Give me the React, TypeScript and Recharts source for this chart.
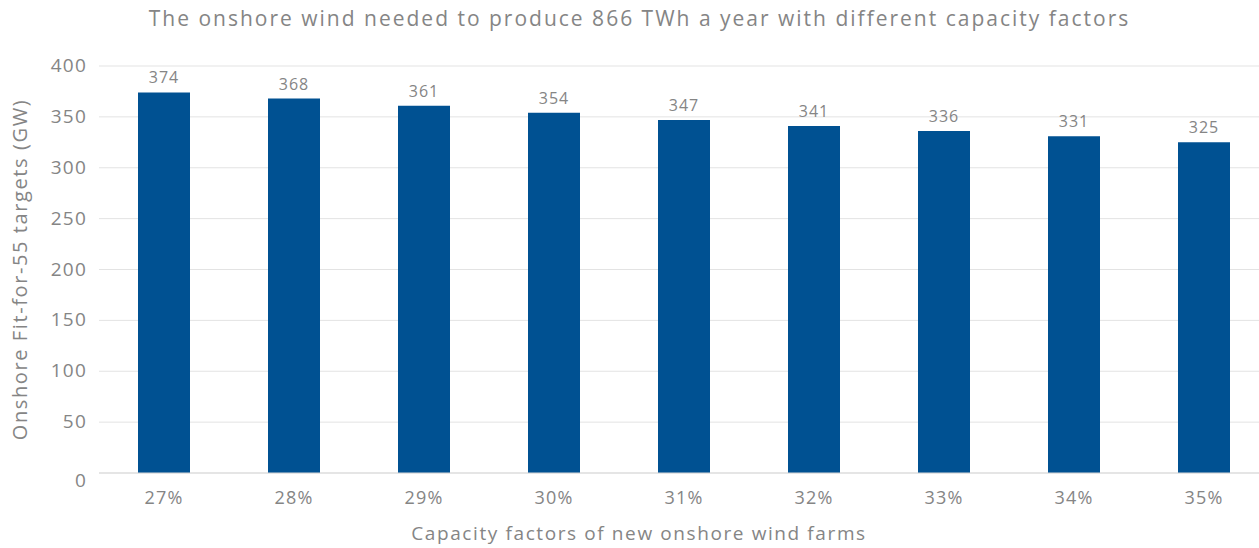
import { BarChart, Bar, XAxis, YAxis, CartesianGrid, LabelList } from 'recharts';

const capacityFactors = ['27%', '28%', '29%', '30%', '31%', '32%', '33%', '34%', '35%'];
const onshoreGW = [374, 368, 361, 354, 347, 341, 336, 331, 325];
const yTicks = [0, 50, 100, 150, 200, 250, 300, 350, 400];

const FONT = '"Open Sans", sans-serif';
const GREY = '#858585';

// Y tick: the zero label sits a little lower than the gridline in the original
const YTick = (props: any) => {
  const { x, y, payload } = props;
  const dy = payload.value === 0 ? 14 : 6;
  return (
    <text x={x - 4} y={y + dy} textAnchor="end" fill={GREY} fontSize={19} fontFamily={FONT} letterSpacing={1.2}>
      {payload.value}
    </text>
  );
};

export default function App() {
  const data = capacityFactors.map((cf, i) => ({ cf, gw: onshoreGW[i] }));

  return (
    <div style={{ position: 'absolute', left: 0, top: 0, width: 1259, height: 548, overflow: 'hidden', background: '#fff', fontFamily: FONT }}>
      <div style={{ position: 'absolute', top: 4, left: 0, width: 1279, textAlign: 'center', fontSize: 21, letterSpacing: 2, color: GREY }}>
        The onshore wind needed to produce 866 TWh a year with different capacity factors
      </div>
      <BarChart width={1280} height={548} data={data} margin={{ top: 66, right: 11, left: 0, bottom: 0 }}>
        <CartesianGrid vertical={false} stroke="#e3e3e3" />
        <XAxis
          dataKey="cf"
          height={75}
          axisLine={{ stroke: '#d9d9d9' }}
          tickLine={false}
          tick={{ fill: GREY, fontSize: 18, fontFamily: FONT, letterSpacing: 1.2 }}
          tickMargin={12}
          label={{ value: 'Capacity factors of new onshore wind farms', position: 'insideBottom', offset: 8, dx: -45, fill: GREY, fontSize: 19, fontFamily: FONT, letterSpacing: 1.6 }}
        />
        <YAxis
          domain={[0, 400]}
          ticks={yTicks}
          width={99}
          axisLine={false}
          tickLine={false}
          tick={<YTick />}
          label={{ value: 'Onshore Fit-for-55 targets (GW)', angle: -90, position: 'insideLeft', offset: 20, fill: GREY, fontSize: 20, fontFamily: FONT, letterSpacing: 1.6, style: { textAnchor: 'middle' } }}
        />
        <Bar dataKey="gw" fill="#005192" barSize={52} isAnimationActive={false}>
          <LabelList dataKey="gw" position="top" offset={9} fill={GREY} fontSize={16} fontFamily={FONT} letterSpacing={1} />
        </Bar>
      </BarChart>
    </div>
  );
}
